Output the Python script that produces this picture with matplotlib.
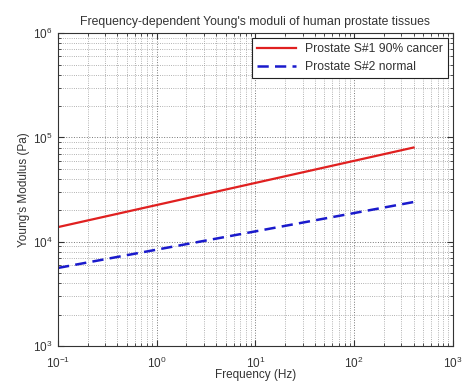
import matplotlib
matplotlib.use("Agg")
import matplotlib.pyplot as plt
from matplotlib.ticker import LogLocator, NullFormatter

plt.rcParams['font.family'] = ['Liberation Sans', 'DejaVu Sans']
plt.rcParams['mathtext.fontset'] = 'custom'
plt.rcParams['mathtext.rm'] = 'Liberation Sans'
plt.rcParams['text.color'] = '#333333'
plt.rcParams['axes.labelcolor'] = '#333333'
plt.rcParams['xtick.labelcolor'] = '#333333'
plt.rcParams['ytick.labelcolor'] = '#333333'

# frequency span (Hz) and fitted modulus at both ends (Pa)
freq = [0.1, 400.0]
cancer_E = [13800.0, 80000.0]
normal_E = [5600.0, 24000.0]
labels = ['Prostate S#1 90% cancer', 'Prostate S#2 normal']

fig = plt.figure(figsize=(4.64, 3.81), dpi=100)
ax = fig.add_axes([0.125, 0.092, 0.851, 0.821])

ax.loglog(freq, cancer_E, '-', color='#e02020', lw=1.6, label=labels[0])
ax.loglog(freq, normal_E, '--', color='#1a1acc', lw=1.8, dashes=(4.5, 2.5), label=labels[1])

ax.set_xlim(0.1, 1000)
ax.set_ylim(1e3, 1e6)
ax.xaxis.set_minor_locator(LogLocator(base=10, subs=range(2, 10)))
ax.yaxis.set_minor_locator(LogLocator(base=10, subs=range(2, 10)))
ax.xaxis.set_minor_formatter(NullFormatter())
ax.yaxis.set_minor_formatter(NullFormatter())

ax.grid(True, which='major', linestyle=':', color='#777777', lw=0.7)
ax.grid(True, which='minor', linestyle=':', color='#999999', lw=0.6)
ax.tick_params(which='both', direction='in', top=True, right=True, labelsize=8.5, color='#333333')
ax.tick_params(which='major', length=4)
ax.tick_params(which='minor', length=2)
ax.tick_params(axis='x', which='major', pad=7)
ax.tick_params(axis='y', which='major', pad=4)
for s in ax.spines.values():
    s.set_color('#333333')
    s.set_linewidth(0.8)

ax.set_title("Frequency-dependent Young's moduli of human prostate tissues", fontsize=8.8, pad=6)
ax.set_xlabel('Frequency (Hz)', fontsize=8.5, labelpad=-1)
ax.set_ylabel("Young's Modulus (Pa)", fontsize=8.5, labelpad=2)

leg = ax.legend(loc='upper right', fontsize=8.7, fancybox=False, framealpha=1,
                edgecolor='#222222', borderaxespad=0.4, handlelength=3.2)
leg.get_frame().set_linewidth(0.8)

fig.savefig('out.png', dpi=100)
